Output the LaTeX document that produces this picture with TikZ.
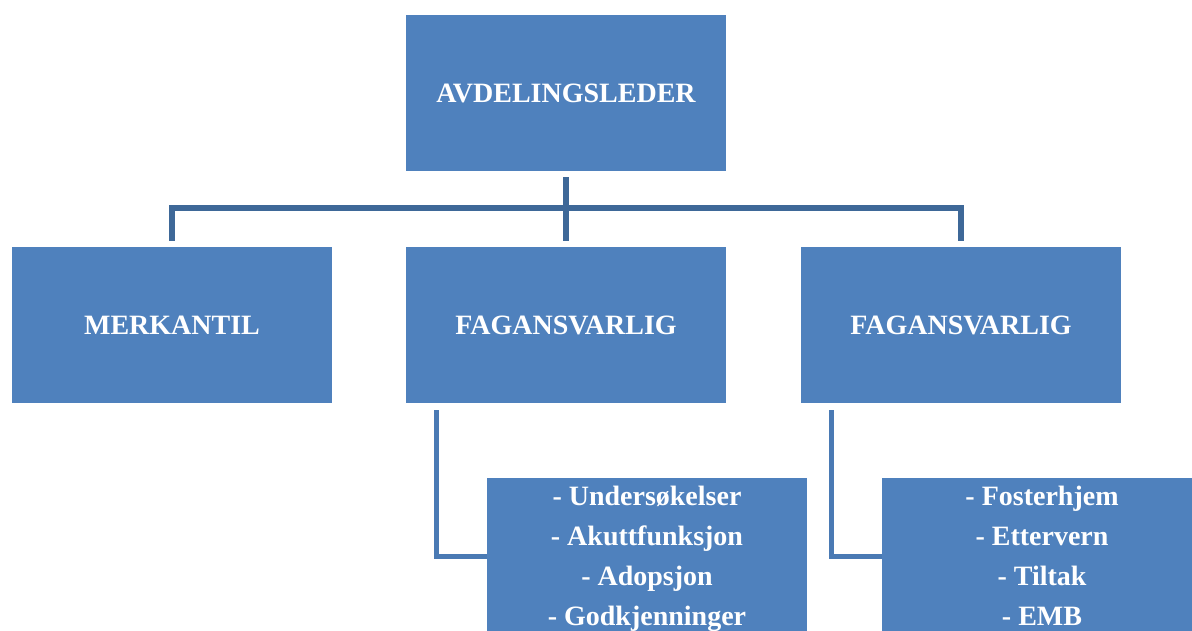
\documentclass[tikz,border=0pt]{standalone}
\usepackage{fontspec}
\setmainfont{Liberation Serif}
\usepackage{tikz}
\usetikzlibrary{positioning}
\definecolor{BoxBlue}{RGB}{79,129,189}
\definecolor{LineBlue}{RGB}{62,104,152}
\definecolor{LinkBlue}{RGB}{74,122,180}

\begin{document}
\begin{tikzpicture}[x=1pt, y=1pt,
		unit/.style={fill=BoxBlue, text=white, minimum width=320pt, minimum height=156pt, inner sep=0pt,%
			font=\fontsize{28}{40}\selectfont\bfseries, align=center},
		link/.style={draw=LineBlue, line width=6pt},
		sublink/.style={draw=LinkBlue, line width=5pt},
		]
	\useasboundingbox (0,0) rectangle (1192,630);
	\node[unit] (leder) at (566,537) {AVDELINGSLEDER};
	\node[unit] (merkantil) at (172,305) {MERKANTIL};
	\node[unit] (fag1) at (566,305) {FAGANSVARLIG};
	\node[unit] (fag2) at (961,305) {FAGANSVARLIG};
	\node[unit] (oppg1) at (647,74) {- Undersøkelser\\- Akuttfunksjon\\- Adopsjon\\\raisebox{0pt}[\height][0pt]{- Godkjenninger}};
	\node[unit] (oppg2) at (1042,74) {- Fosterhjem\\- Ettervern\\- Tiltak\\- EMB};
	\coordinate (bar) at (566,422);
	% lines from the leader down to the three units
	\draw[link] ([yshift=-6pt]leder.south) -- ([yshift=6pt]fag1.north);
	\draw[link] ([yshift=6pt]merkantil.north) |- (bar) -| ([yshift=6pt]fag2.north);
	% tasks under each unit
	\draw[sublink] ([xshift=-130pt,yshift=-7pt]fag1.south) |- (oppg1.west);
	\draw[sublink] ([xshift=-130pt,yshift=-7pt]fag2.south) |- (oppg2.west);
\end{tikzpicture}
\end{document}
